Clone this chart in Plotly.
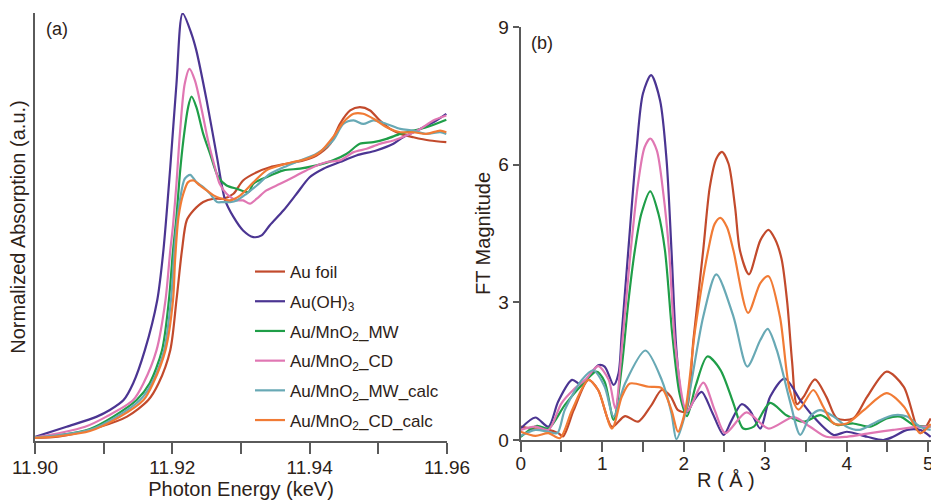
import plotly.graph_objects as go

# ---------------- data: panel (a) XANES ----------------
names = ["Au foil", "Au(OH)<sub>3</sub>", "Au/MnO<sub>2</sub>_MW", "Au/MnO<sub>2</sub>_CD",
         "Au/MnO<sub>2</sub>_MW_calc", "Au/MnO<sub>2</sub>_CD_calc"]
colors = ["#c24a2c", "#4b3592", "#1f9e48", "#e077b3", "#68a9b5", "#f17b35"]

e_foil = [11.9000, 11.9036, 11.9095, 11.9134, 11.9165, 11.9180, 11.9197, 11.9206, 11.9214, 11.9221,
          11.9231, 11.9245, 11.9260, 11.9274, 11.9289, 11.9303, 11.9323, 11.9342, 11.9366, 11.9391,
          11.9410, 11.9430, 11.9444, 11.9459, 11.9473, 11.9488, 11.9502, 11.9517, 11.9532, 11.9551,
          11.9575, 11.9599]
a_foil = [-0.004, 0.002, 0.043, 0.086, 0.156, 0.227, 0.367, 0.578, 0.789, 0.916,
          0.958, 0.993, 1.007, 1.007, 1.028, 1.084, 1.119, 1.140, 1.155, 1.169,
          1.190, 1.239, 1.323, 1.380, 1.394, 1.380, 1.338, 1.302, 1.281, 1.267,
          1.253, 1.246]

e_oh = [11.9000, 11.9046, 11.9090, 11.9109, 11.9129, 11.9143, 11.9160, 11.9178, 11.9187, 11.9197,
        11.9206, 11.9215, 11.9228, 11.9235, 11.9250, 11.9265, 11.9277, 11.9289, 11.9303, 11.9318,
        11.9330, 11.9342, 11.9362, 11.9381, 11.9400, 11.9420, 11.9444, 11.9468, 11.9497, 11.9522,
        11.9536, 11.9556, 11.9580, 11.9599]
a_oh = [0.000, 0.043, 0.086, 0.114, 0.156, 0.227, 0.367, 0.578, 0.789, 1.140,
        1.492, 1.790, 1.703, 1.633, 1.422, 1.183, 1.000, 0.930, 0.873, 0.845,
        0.852, 0.895, 0.958, 1.028, 1.098, 1.134, 1.162, 1.190, 1.211, 1.239,
        1.267, 1.295, 1.330, 1.366]

e_mw = [11.9000, 11.9036, 11.9080, 11.9114, 11.9148, 11.9167, 11.9185, 11.9195, 11.9201, 11.9206,
        11.9211, 11.9216, 11.9223, 11.9228, 11.9235, 11.9245, 11.9255, 11.9267, 11.9279, 11.9294,
        11.9311, 11.9318, 11.9337, 11.9362, 11.9386, 11.9410, 11.9434, 11.9454, 11.9473, 11.9493,
        11.9512, 11.9532, 11.9551, 11.9570, 11.9599]
a_mw = [-0.002, 0.008, 0.034, 0.086, 0.156, 0.227, 0.367, 0.578, 0.789, 0.930,
        1.113, 1.253, 1.394, 1.439, 1.394, 1.281, 1.197, 1.098, 1.063, 1.049,
        1.035, 1.070, 1.098, 1.127, 1.134, 1.148, 1.169, 1.197, 1.239, 1.246,
        1.260, 1.281, 1.295, 1.309, 1.341]

e_cd = [11.9000, 11.9036, 11.9073, 11.9104, 11.9143, 11.9158, 11.9177, 11.9190, 11.9197, 11.9201,
        11.9206, 11.9211, 11.9218, 11.9225, 11.9233, 11.9243, 11.9252, 11.9262, 11.9269, 11.9279,
        11.9294, 11.9303, 11.9313, 11.9323, 11.9337, 11.9357, 11.9376, 11.9400, 11.9425, 11.9444,
        11.9464, 11.9483, 11.9502, 11.9522, 11.9541, 11.9561, 11.9580, 11.9599]
a_cd = [-0.002, 0.017, 0.043, 0.086, 0.156, 0.227, 0.367, 0.578, 0.789, 0.895,
        1.070, 1.281, 1.492, 1.556, 1.506, 1.380, 1.253, 1.140, 1.070, 1.028,
        1.000, 1.000, 0.986, 1.007, 1.042, 1.070, 1.098, 1.134, 1.162, 1.169,
        1.204, 1.218, 1.239, 1.253, 1.274, 1.302, 1.338, 1.359]

e_mwc = [11.9000, 11.9036, 11.9080, 11.9119, 11.9153, 11.9170, 11.9188, 11.9198, 11.9203, 11.9206,
         11.9211, 11.9218, 11.9226, 11.9235, 11.9245, 11.9255, 11.9265, 11.9274, 11.9284, 11.9294,
         11.9308, 11.9323, 11.9342, 11.9362, 11.9386, 11.9410, 11.9434, 11.9449, 11.9464, 11.9478,
         11.9493, 11.9512, 11.9532, 11.9551, 11.9570, 11.9590, 11.9599]
a_mwc = [-0.002, 0.008, 0.030, 0.086, 0.156, 0.227, 0.367, 0.578, 0.789, 0.887,
         1.000, 1.091, 1.108, 1.077, 1.056, 1.028, 0.993, 0.993, 0.993, 1.000,
         1.028, 1.063, 1.112, 1.140, 1.169, 1.197, 1.253, 1.323, 1.338, 1.323,
         1.338, 1.323, 1.302, 1.295, 1.281, 1.288, 1.281]

e_cdc = [11.9000, 11.9036, 11.9080, 11.9124, 11.9158, 11.9172, 11.9190, 11.9201, 11.9204, 11.9209,
         11.9216, 11.9223, 11.9231, 11.9240, 11.9250, 11.9260, 11.9272, 11.9284, 11.9299, 11.9318,
         11.9337, 11.9357, 11.9376, 11.9396, 11.9415, 11.9434, 11.9449, 11.9464, 11.9478, 11.9493,
         11.9512, 11.9532, 11.9551, 11.9570, 11.9590, 11.9599]
a_cdc = [-0.004, 0.004, 0.025, 0.086, 0.156, 0.227, 0.367, 0.578, 0.747, 0.930,
         1.028, 1.077, 1.084, 1.063, 1.042, 1.021, 1.007, 1.000, 1.021, 1.076,
         1.127, 1.148, 1.162, 1.176, 1.204, 1.267, 1.330, 1.366, 1.366, 1.345,
         1.309, 1.288, 1.288, 1.281, 1.295, 1.288]

# ---------------- data: panel (b) FT-EXAFS ----------------
r_foil = [0, 0.18, 0.34, 0.46, 0.52, 0.65, 0.83, 0.95, 1.12, 1.28, 1.44, 1.60, 1.73, 1.84, 1.93,
          2.02, 2.12, 2.24, 2.32, 2.40, 2.47, 2.55, 2.63, 2.69, 2.80, 2.94, 3.04, 3.12, 3.20, 3.27,
          3.33, 3.39, 3.47, 3.61, 3.75, 3.88, 4.08, 4.25, 4.49, 4.70, 4.90, 5.03]
m_foil = [0.29, 0.23, 0.22, 0.15, 0.08, 0.65, 1.31, 1.09, 0.29, 0.52, 0.40, 0.75, 1.09, 0.95, 0.65,
          0.62, 2.20, 4.15, 5.51, 6.13, 6.28, 6.02, 5.08, 4.13, 3.61, 4.35, 4.58, 4.38, 3.95, 3.00,
          1.70, 0.78, 0.94, 1.32, 0.94, 0.47, 0.47, 0.94, 1.49, 1.16, 0.15, 0.47]

r_oh = [0, 0.18, 0.34, 0.46, 0.63, 0.75, 0.95, 1.03, 1.14, 1.20, 1.24, 1.32, 1.42, 1.50, 1.60,
        1.71, 1.79, 1.85, 1.91, 1.98, 2.04, 2.12, 2.22, 2.35, 2.49, 2.58, 2.71, 2.81, 2.94, 3.06,
        3.24, 3.43, 3.59, 3.84, 4.00, 4.25, 4.45, 4.57, 4.74, 4.90, 5.03]
m_oh = [0.25, 0.49, 0.29, 0.84, 1.31, 1.20, 1.63, 1.60, 1.20, 1.45, 2.33, 4.13, 6.31, 7.55, 7.95,
        7.40, 6.09, 4.13, 1.97, 0.84, 0.60, 0.85, 1.05, 0.60, 0.11, 0.40, 0.78, 0.65, 0.25, 0.94,
        1.34, 0.87, 0.51, 0.11, 0.18, 0.07, 0.00, 0.07, 0.22, 0.22, 0.07]

r_mw = [0, 0.20, 0.34, 0.54, 0.75, 0.93, 1.03, 1.14, 1.24, 1.32, 1.40, 1.48, 1.59, 1.69, 1.77,
        1.86, 1.95, 2.04, 2.15, 2.29, 2.45, 2.61, 2.73, 2.86, 3.06, 3.26, 3.47, 3.68, 3.88, 4.08,
        4.29, 4.49, 4.66, 4.82, 5.03]
m_mw = [0.07, 0.31, 0.25, 0.76, 1.20, 1.49, 1.27, 0.44, 1.60, 3.00, 4.13, 4.93, 5.42, 4.93, 4.13,
        2.30, 1.00, 0.52, 1.20, 1.82, 1.53, 0.80, 0.25, 0.29, 0.81, 0.54, 0.40, 0.54, 0.33, 0.36,
        0.29, 0.47, 0.51, 0.33, 0.29]

r_cd = [0, 0.18, 0.34, 0.50, 0.65, 0.79, 0.95, 1.08, 1.16, 1.25, 1.35, 1.44, 1.52, 1.59, 1.67,
        1.75, 1.82, 1.90, 2.04, 2.24, 2.38, 2.51, 2.77, 3.04, 3.35, 3.55, 3.75, 4.00, 4.29, 4.57,
        4.90, 5.03]
m_cd = [0.22, 0.29, 0.22, 0.80, 1.10, 1.31, 1.61, 1.31, 0.69, 2.20, 4.13, 5.59, 6.38, 6.57, 6.31,
        5.37, 4.13, 2.00, 0.62, 1.25, 0.65, 0.15, 0.60, 0.25, 0.50, 0.29, 0.07, 0.07, 0.15, 0.22,
        0.29, 0.29]

r_mwc = [0, 0.18, 0.34, 0.45, 0.54, 0.75, 0.89, 1.03, 1.14, 1.28, 1.53, 1.73, 1.85, 1.91, 2.02,
         2.24, 2.40, 2.61, 2.78, 2.94, 3.03, 3.14, 3.30, 3.43, 3.55, 3.67, 3.84, 4.00, 4.16, 4.37,
         4.57, 4.74, 4.90, 5.03]
m_mwc = [0.09, 0.22, 0.18, 0.15, 0.65, 1.31, 1.52, 1.16, 0.51, 1.23, 1.95, 1.31, 0.58, 0.02, 0.58,
         2.69, 3.61, 2.69, 1.60, 2.18, 2.42, 1.97, 0.87, 0.11, 0.51, 0.65, 0.51, 0.29, 0.22, 0.40,
         0.54, 0.51, 0.29, 0.22]

r_cdc = [0, 0.18, 0.34, 0.48, 0.63, 0.83, 0.95, 1.12, 1.24, 1.34, 1.57, 1.73, 1.85, 1.93, 2.02,
         2.14, 2.30, 2.38, 2.45, 2.53, 2.61, 2.79, 2.94, 3.04, 3.18, 3.30, 3.41, 3.59, 3.71, 3.84,
         4.00, 4.21, 4.49, 4.70, 4.90, 5.03]
m_cdc = [0.18, 0.09, 0.15, 0.04, 0.65, 1.31, 1.09, 0.25, 0.94, 1.23, 1.16, 1.13, 0.65, 0.18, 0.65,
         2.40, 4.13, 4.71, 4.84, 4.64, 4.13, 2.77, 3.42, 3.57, 2.69, 1.09, 0.66, 1.09, 0.73, 0.36,
         0.36, 0.65, 1.02, 0.73, 0.15, 0.35]

xanes = [(e_foil, a_foil), (e_oh, a_oh), (e_mw, a_mw), (e_cd, a_cd), (e_mwc, a_mwc), (e_cdc, a_cdc)]
ft = [(r_foil, m_foil), (r_oh, m_oh), (r_mw, m_mw), (r_cd, m_cd), (r_mwc, m_mwc), (r_cdc, m_cdc)]

e_ticks = [11.90, 11.92, 11.94, 11.96]
e_ticktext = ["11.90", "11.92", "11.94", "11.96"]
e_minor = [11.91, 11.93, 11.95]
r_ticks = [0, 1, 2, 3, 4, 5]
r_minor = [0.5, 1.5, 2.5, 3.5, 4.5]
m_ticks = [0, 3, 6, 9]

# ---------------- figure ----------------
FONT = "Liberation Sans, Arial, sans-serif"
TXT = "#2d2218"
AXC = "#5a5a5a"

fig = go.Figure()
for i, (x, y) in enumerate(xanes):
    fig.add_trace(go.Scatter(x=x, y=y, mode="lines", name=names[i], legendgroup=str(i),
                             line=dict(color=colors[i], width=2.2, shape="spline", smoothing=0.8),
                             xaxis="x", yaxis="y"))
for i, (x, y) in enumerate(ft):
    fig.add_trace(go.Scatter(x=x, y=y, mode="lines", name=names[i], showlegend=False,
                             line=dict(color=colors[i], width=2.2, shape="spline", smoothing=0.8),
                             xaxis="x2", yaxis="y2"))

W, H = 931, 500
L, R, T, B = 35, 0, 13, 59
pw = W - L - R
ph = H - T - B

fig.update_layout(
    width=W, height=H, autosize=False,
    margin=dict(l=L, r=R, t=T, b=B),
    paper_bgcolor="white", plot_bgcolor="white",
    font=dict(family=FONT, color=TXT, size=18),
    xaxis=dict(domain=[0, (447 - L) / pw], range=[11.90, 11.96], anchor="y", automargin=False,
               showline=True, linecolor=AXC, linewidth=2, showgrid=False, zeroline=False,
               ticks="outside", ticklen=11, tickwidth=1.5, tickcolor=AXC,
               tickvals=e_ticks, ticktext=e_ticktext, tickfont=dict(size=19),
               ticklabelstandoff=-3, ticklabeloverflow="allow",
               minor=dict(tickvals=e_minor, ticks="outside", ticklen=11, tickwidth=1.5,
                          tickcolor=AXC, showgrid=False),
               title=dict(text="Photon Energy (keV)", font=dict(size=20), standoff=5)),
    yaxis=dict(domain=[0, 1], range=[-0.017, 1.792], anchor="x", automargin=False,
               showline=True, linecolor=AXC, linewidth=2, showgrid=False, zeroline=False,
               showticklabels=False, ticks="",
               title=dict(text="Normalized Absorption (a.u.)", font=dict(size=20), standoff=2)),
    xaxis2=dict(domain=[(520.7 - L) / pw, 1], range=[0, 5.034], anchor="y2", automargin=False,
                showline=True, linecolor=AXC, linewidth=2, showgrid=False, zeroline=False,
                ticks="outside", ticklen=10, tickwidth=1.5, tickcolor=AXC,
                tickvals=r_ticks, tickfont=dict(size=19),
                ticklabelstandoff=-5, ticklabeloverflow="allow",
                minor=dict(tickvals=r_minor, ticks="outside", ticklen=10, tickwidth=1.5,
                           tickcolor=AXC, showgrid=False),
                title=dict(text="R ( Å )", font=dict(size=20), standoff=0)),
    yaxis2=dict(domain=[(441 - 440) / ph, (441 - 27) / ph], range=[0, 9], anchor="x2",
                automargin=False,
                showline=True, linecolor=AXC, linewidth=2, showgrid=False, zeroline=False,
                ticks="outside", ticklen=6, tickwidth=1.5, tickcolor=AXC,
                tickvals=m_ticks, tickfont=dict(size=19),
                title=dict(text="FT Magnitude", font=dict(size=20), standoff=2)),
    legend=dict(x=(250 - L) / pw, xanchor="left", y=(441 - 254) / ph, yanchor="top",
                font=dict(size=17, color=TXT), bgcolor="rgba(0,0,0,0)",
                tracegroupgap=4.6, itemwidth=30),
    annotations=[
        dict(text="(a)", x=(57 - L) / pw, y=(441 - 29) / ph, xref="paper", yref="paper",
             showarrow=False, font=dict(size=18, color=TXT), xanchor="center", yanchor="middle"),
        dict(text="(b)", x=(542 - L) / pw, y=(441 - 43) / ph, xref="paper", yref="paper",
             showarrow=False, font=dict(size=18, color=TXT), xanchor="center", yanchor="middle"),
    ],
)

fig.write_html(
    "out.html",
    config={"responsive": False, "displayModeBar": False},
    post_script=("document.documentElement.style.overflow='hidden';"
                 "document.body.style.margin='0';document.body.style.padding='0';"
                 "document.body.style.overflow='hidden';"),
)
